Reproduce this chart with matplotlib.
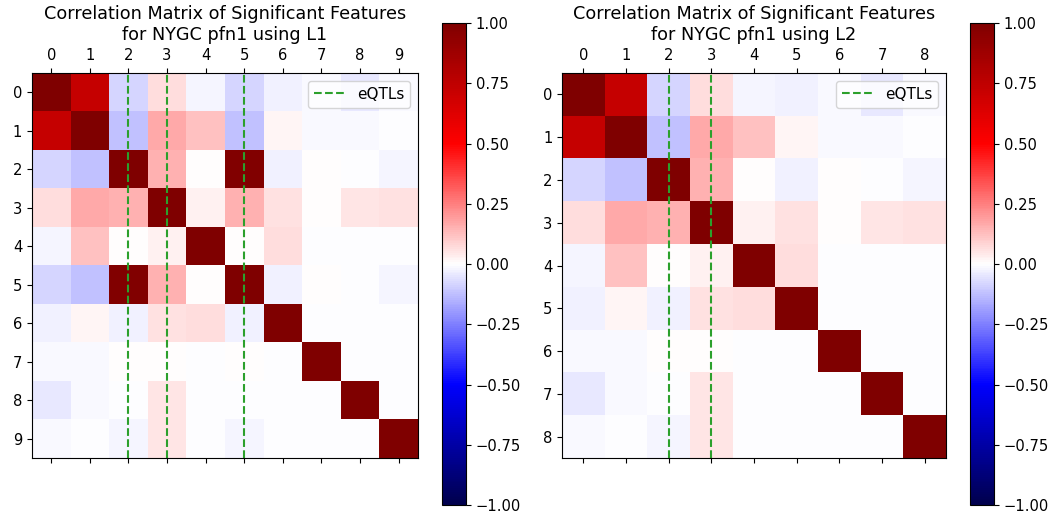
import numpy as np
import matplotlib
matplotlib.use("Agg")
import matplotlib.pyplot as plt

plt.rcParams['font.size'] = 10.6

# correlation of significant features, L1 selection (10 features)
corr_l1 = [
    [1.00, 0.72, -0.08, 0.07, -0.02, -0.08, -0.03, -0.01, -0.04, -0.01],
    [0.72, 1.00, -0.12, 0.17, 0.12, -0.12, 0.02, -0.01, -0.01, -0.005],
    [-0.08, -0.12, 1.00, 0.15, 0.00, 0.99, -0.03, 0.00, -0.005, -0.02],
    [0.07, 0.17, 0.15, 1.00, 0.03, 0.15, 0.06, 0.00, 0.05, 0.06],
    [-0.02, 0.12, 0.00, 0.03, 1.00, 0.00, 0.07, -0.005, -0.005, -0.005],
    [-0.08, -0.12, 0.99, 0.15, 0.00, 1.00, -0.03, 0.00, -0.005, -0.02],
    [-0.03, 0.02, -0.03, 0.06, 0.07, -0.03, 1.00, -0.005, -0.005, -0.005],
    [-0.01, -0.01, 0.00, 0.00, -0.005, 0.00, -0.005, 1.00, -0.005, -0.005],
    [-0.04, -0.01, -0.005, 0.05, -0.005, -0.005, -0.005, -0.005, 1.00, -0.005],
    [-0.01, -0.005, -0.02, 0.05, -0.005, -0.02, -0.005, -0.005, -0.005, 1.00],
]

# correlation of significant features, L2 selection (9 features)
corr_l2 = [
    [1.00, 0.72, -0.08, 0.07, -0.02, -0.03, -0.01, -0.04, -0.01],
    [0.72, 1.00, -0.12, 0.17, 0.12, 0.02, -0.01, -0.01, -0.005],
    [-0.08, -0.12, 1.00, 0.15, 0.00, -0.03, 0.00, -0.005, -0.02],
    [0.07, 0.17, 0.15, 1.00, 0.03, 0.06, 0.00, 0.05, 0.06],
    [-0.02, 0.12, 0.00, 0.03, 1.00, 0.07, -0.005, -0.005, -0.005],
    [-0.03, 0.02, -0.03, 0.06, 0.07, 1.00, -0.005, -0.005, -0.005],
    [-0.01, -0.01, 0.00, 0.00, -0.005, -0.005, 1.00, -0.005, -0.005],
    [-0.04, -0.01, -0.005, 0.05, -0.005, -0.005, -0.005, 1.00, -0.005],
    [-0.01, -0.005, -0.02, 0.05, -0.005, -0.005, -0.005, -0.005, 1.00],
]

eqtls_l1 = [2, 3, 5]
eqtls_l2 = [2, 3]

titles = ["Correlation Matrix of Significant Features\nfor NYGC pfn1 using L1",
          "Correlation Matrix of Significant Features\nfor NYGC pfn1 using L2"]

fig = plt.figure(figsize=(10.48, 5.16), dpi=100)
panels = [
    (corr_l1, eqtls_l1, [0.0305, 0.1124, 0.3683, 0.746], [0.4218, 0.0213, 0.0229, 0.934]),
    (corr_l2, eqtls_l2, [0.5363, 0.1124, 0.3664, 0.746], [0.9255, 0.0213, 0.0229, 0.934]),
]

for (corr, eqtls, ax_rect, cb_rect), title in zip(panels, titles):
    ax = fig.add_axes(ax_rect)
    cax = fig.add_axes(cb_rect)
    mat = np.array(corr)
    n = mat.shape[0]
    im = ax.imshow(mat, cmap='seismic', vmin=-1, vmax=1, aspect='auto')
    for i, x in enumerate(eqtls):
        ax.axvline(x, color='tab:green', linestyle='--', linewidth=1.5,
                   label='eQTLs' if i == 0 else None)
    ax.set_xticks(range(n))
    ax.set_yticks(range(n))
    ax.tick_params(top=True, labeltop=True, bottom=True, labelbottom=False)
    ax.set_title(title, fontsize=12.7)
    ax.legend(loc='upper right', fontsize=11)
    fig.colorbar(im, cax=cax)

fig.savefig("out.png", dpi=100)
